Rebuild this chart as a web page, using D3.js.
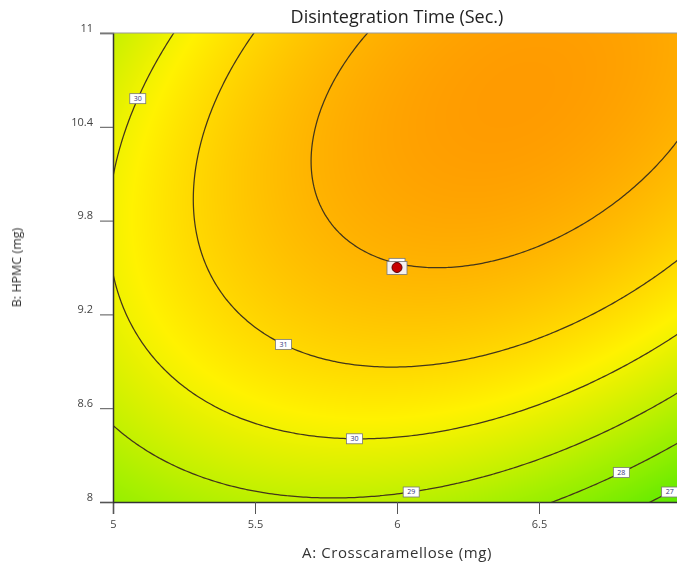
<!DOCTYPE html>
<html lang="en">
<head>
<meta charset="UTF-8">
<title>Disintegration Time</title>
<style>
  body { margin: 0; background: #fff; overflow: hidden; }
  #wrap { position: relative; width: 677px; height: 566px; }
  #wrap canvas, #wrap svg { position: absolute; left: 0; top: 0; }
  text { font-family: "Open Sans", sans-serif; }
</style>
</head>
<body>
<div id="wrap">
  <canvas id="surface" width="677" height="566"></canvas>
  <svg id="chart" width="677" height="566"></svg>
</div>
<script src="https://d3js.org/d3.v7.min.js"></script>
<script>
// axis ticks
const xTicks = [5, 5.5, 6, 6.5, 7];
const yTicks = [8, 8.6, 9.2, 9.8, 10.4, 11];

// contour levels (sec)
const levels = [27, 28, 29, 30, 31, 32];

// quadratic model in coded factors: Intercept, A, B, AB, A², B²
const modelTerms = ["Intercept", "A", "B", "AB", "A2", "B2"];
const modelCoef = [31.971, 0.434, 1.668, 1.143, -1.522, -1.459];

// where the contour labels sit (A, B), snapped onto the line
const labelSpots = [
  {level: 30, a: 5.09, b: 10.57},
  {level: 31, a: 5.6, b: 9.0},
  {level: 30, a: 5.85, b: 8.42},
  {level: 29, a: 6.05, b: 8.08},
  {level: 28, a: 6.78, b: 8.22},
  {level: 27, a: 6.95, b: 8.1},
  {level: 32, a: 6.0, b: 9.5}
];

// design point (A, B)
const designPoints = [[6, 9.5]];

function response(a, b) {
  const u = a - 6, v = (b - 9.5) / 1.5;
  const t = [1, u, v, u * v, u * u, v * v];
  return d3.sum(modelCoef, (c, i) => c * t[i]);
}

const x = d3.scaleLinear().domain([5, 7]).range([113, 681]);
const y = d3.scaleLinear().domain([8, 11]).range([502, 33]);

const color = d3.scaleLinear()
  .domain([26.5, 28.5, 30.3, 32.8])
  .range(["#55ea00", "#aaf000", "#fff200", "#ff9600"])
  .clamp(true);

// colour surface on a canvas behind the svg
const ctx = document.getElementById("surface").getContext("2d");
const x0 = 113, x1 = 681, y0 = 33, y1 = 502;
const img = ctx.createImageData(x1 - x0, y1 - y0);
for (let py = y0; py < y1; py++) {
  for (let px = x0; px < x1; px++) {
    const c = d3.rgb(color(response(x.invert(px + 0.5), y.invert(py + 0.5))));
    const k = ((py - y0) * (x1 - x0) + (px - x0)) * 4;
    img.data[k] = c.r; img.data[k + 1] = c.g; img.data[k + 2] = c.b; img.data[k + 3] = 255;
  }
}
ctx.putImageData(img, x0, y0);

const svg = d3.select("#chart");
svg.append("clipPath").attr("id", "plot-clip")
  .append("rect").attr("x", x0).attr("y", y0).attr("width", x1 - x0).attr("height", y1 - y0);

// contour grid runs a bit past the plot so closing edges stay outside the clip
const nx = 221, ny = 161, aMin = 4.9, bMax = 11.1, dA = 0.01, dB = 0.02;
const grid = new Array(nx * ny);
for (let j = 0; j < ny; j++) {
  for (let i = 0; i < nx; i++) grid[j * nx + i] = response(aMin + i * dA, bMax - j * dB);
}
const contours = d3.contours().size([nx, ny]).thresholds(levels)(grid);
const toPx = (gx, gy) => [x(aMin + (gx - 0.5) * dA), y(bMax - (gy - 0.5) * dB)];
const path = d3.geoPath(d3.geoTransform({
  point(gx, gy) { const p = toPx(gx, gy); this.stream.point(p[0], p[1]); }
}));

svg.append("g").attr("clip-path", "url(#plot-clip)")
  .selectAll("path").data(contours).join("path")
  .attr("d", path)
  .attr("fill", "none")
  .attr("stroke", "#43361a")
  .attr("stroke-width", 1.25);

// contour labels
const labels = labelSpots.map(s => {
  const c = contours.find(d => d.value === s.level);
  const tx = x(s.a), ty = y(s.b);
  let best = [tx, ty], bestD = Infinity;
  c.coordinates.forEach(poly => poly.forEach(ring => ring.forEach(([gx, gy]) => {
    const p = toPx(gx, gy);
    if (p[0] < x0 || p[0] > x1 || p[1] < y0 || p[1] > y1) return;
    const d = (p[0] - tx) ** 2 + (p[1] - ty) ** 2;
    if (d < bestD) { bestD = d; best = p; }
  })));
  return {level: s.level, px: best[0], py: best[1]};
});

const lab = svg.append("g").selectAll("g").data(labels).join("g")
  .attr("transform", d => `translate(${d.px},${d.py})`);
lab.append("rect").attr("x", -8).attr("y", -5).attr("width", 16).attr("height", 10)
  .attr("fill", "#fff").attr("stroke", "#777").attr("stroke-width", 0.8);
lab.append("text").attr("text-anchor", "middle").attr("dy", "0.35em")
  .attr("font-size", 7).attr("fill", "#34347a").text(d => d.level);

// design point
const dp = svg.append("g").selectAll("g").data(designPoints).join("g")
  .attr("transform", d => `translate(${x(d[0])},${y(d[1])})`);
dp.append("rect").attr("x", -10).attr("y", -6).attr("width", 20).attr("height", 13)
  .attr("fill", "#f4f0f0").attr("stroke", "#777").attr("stroke-width", 0.8);
dp.append("circle").attr("r", 5).attr("fill", "#c80000").attr("stroke", "#5a0000").attr("stroke-width", 1);

// axes
svg.append("g").attr("transform", `translate(0,${y1})`)
  .call(d3.axisBottom(x).tickValues(xTicks).tickSize(12).tickPadding(6).tickFormat(d => d))
  .call(g => g.select(".domain").attr("stroke", "#333").attr("stroke-width", 1.5))
  .call(g => g.selectAll(".tick line").attr("stroke", "#555"))
  .call(g => g.selectAll("text").attr("font-size", 11).attr("fill", "#444").attr("font-family", "Open Sans"));

svg.append("g").attr("transform", `translate(${x0},0)`)
  .call(d3.axisLeft(y).tickValues(yTicks).tickSize(13).tickPadding(7).tickFormat(d => d))
  .call(g => g.select(".domain").attr("stroke", "#333").attr("stroke-width", 1.5))
  .call(g => g.selectAll(".tick line").attr("stroke", "#555"))
  .call(g => g.selectAll("text").attr("font-size", 11).attr("fill", "#444").attr("dy", "-0.15em").attr("font-family", "Open Sans"));

svg.append("line").attr("x1", 100).attr("x2", x1).attr("y1", y0).attr("y2", y0)
  .attr("stroke", "#999").attr("stroke-width", 1.2);

// titles
svg.append("text").attr("x", x(6)).attr("y", 23).attr("text-anchor", "middle")
  .attr("font-size", 18).attr("fill", "#222").text("Disintegration Time (Sec.)");
svg.append("text").attr("x", x(6)).attr("y", 558).attr("text-anchor", "middle")
  .attr("font-size", 15).attr("letter-spacing", 0.6).attr("fill", "#333").text("A: Crosscaramellose (mg)");
svg.append("text").attr("transform", `translate(21,${y(9.5)}) rotate(-90)`).attr("text-anchor", "middle")
  .attr("font-size", 12.5).attr("fill", "#333").text("B: HPMC (mg)");
</script>
</body>
</html>
